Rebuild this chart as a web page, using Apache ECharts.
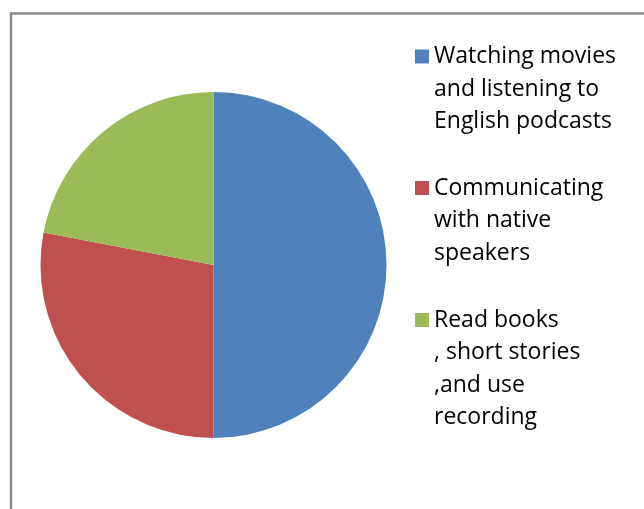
<!DOCTYPE html>
<html>
<head>
<meta charset="utf-8">
<script src="https://cdn.jsdelivr.net/npm/echarts@6/dist/echarts.min.js"></script>
<style>
  html, body { margin: 0; padding: 0; background: #ffffff; }
  #chart { width: 644px; height: 509px; }
</style>
</head>
<body>
<div id="chart"></div>
<script>
// Learning activities and their shares
const categories = [
  'Watching movies\nand listening to\nEnglish podcasts',
  'Communicating\nwith native\nspeakers',
  'Read books\n, short stories\n,and use\nrecording'
];
const values = [50, 28, 22];
const colors = ['#4F81BD', '#C0504D', '#9BBB59'];

const LINE_H = 32.5;
const FONT = '"Open Sans", Lato, sans-serif';

// One legend block per category so each can sit at its own height.
// Legend text is centred on its marker, so blank lines are put in front
// of the wrapped label to bring its first line level with the marker.
const legendTops = [49.5, 181, 313];
const legends = categories.map(function (name, i) {
  const lines = name.split('\n').length;
  // block is (2n-1) lines tall and centred on the 14px marker
  const offset = 7 - LINE_H * (2 * lines - 1) / 2;
  return {
    orient: 'vertical',
    left: 415,
    top: legendTops[i] + offset,
    padding: 0,
    itemGap: 0,
    itemWidth: 14,
    itemHeight: 14,
    itemStyle: { borderWidth: 0 },
    icon: 'rect',
    selectedMode: false,
    data: [name],
    formatter: function (n) {
      return '\n'.repeat(lines - 1) + n;
    },
    textStyle: {
      fontFamily: FONT,
      fontSize: 23,
      color: '#000000',
      lineHeight: LINE_H
    },
    itemTextGap: 9.5
  };
});

const chart = echarts.init(document.getElementById('chart'), null, { renderer: 'canvas' });
chart.setOption({
  animation: false,
  backgroundColor: '#ffffff',
  color: colors,
  legend: legends,
  graphic: [{
    type: 'rect',
    shape: { x: 11, y: 13.5, width: 700, height: 600 },
    style: { fill: 'none', stroke: '#8a8a8a', lineWidth: 2.5 },
    silent: true
  }],
  series: [{
    type: 'pie',
    center: [213.5, 265],
    radius: [0, 173],
    startAngle: 90,
    clockwise: true,
    label: { show: false },
    labelLine: { show: false },
    emphasis: { disabled: true },
    itemStyle: { borderWidth: 0 },
    data: categories.map(function (name, i) {
      return { name: name, value: values[i] };
    })
  }]
});
</script>
</body>
</html>
